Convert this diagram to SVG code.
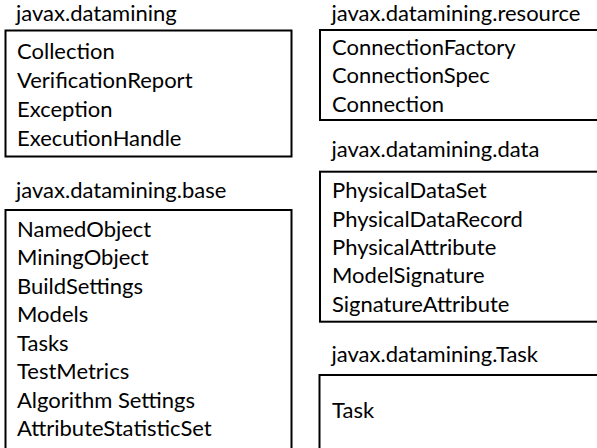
<svg xmlns="http://www.w3.org/2000/svg" width="597" height="448" viewBox="0 0 597 448">
  <style>
    .box { fill: #ffffff; stroke: #000000; stroke-width: 2; }
    .title, .item { font-family: "Lato", "Liberation Sans", sans-serif; font-size: 22px; fill: #000000; }
  </style>
  <rect x="0" y="0" width="597" height="448" fill="#ffffff"/>

  <!-- javax.datamining -->
  <g id="pkg-datamining">
    <text class="title" x="16" y="21">javax.datamining</text>
    <rect class="box" x="5.5" y="30.5" width="286" height="126"/>
    <text class="item" x="17" y="59.3">Collection</text>
    <text class="item" x="17" y="88.2">VerificationReport</text>
    <text class="item" x="17" y="116.9">Exception</text>
    <text class="item" x="17" y="145.7">ExecutionHandle</text>
  </g>

  <!-- javax.datamining.base -->
  <g id="pkg-base">
    <text class="title" x="16" y="198.3">javax.datamining.base</text>
    <rect class="box" x="5.5" y="210" width="286" height="250"/>
    <text class="item" x="17" y="236.7">NamedObject</text>
    <text class="item" x="17" y="265.2">MiningObject</text>
    <text class="item" x="17" y="293.8">BuildSettings</text>
    <text class="item" x="17" y="322.4">Models</text>
    <text class="item" x="17" y="350.9">Tasks</text>
    <text class="item" x="17" y="379.4">TestMetrics</text>
    <text class="item" x="17" y="407.6">Algorithm Settings</text>
    <text class="item" x="17" y="436">AttributeStatisticSet</text>
  </g>

  <!-- javax.datamining.resource -->
  <g id="pkg-resource">
    <text class="title" x="331.5" y="21">javax.datamining.resource</text>
    <rect class="box" x="320" y="30" width="300" height="90"/>
    <text class="item" x="332" y="55">ConnectionFactory</text>
    <text class="item" x="332" y="83.4">ConnectionSpec</text>
    <text class="item" x="332" y="111.7">Connection</text>
  </g>

  <!-- javax.datamining.data -->
  <g id="pkg-data">
    <text class="title" x="331.5" y="156.7">javax.datamining.data</text>
    <rect class="box" x="320" y="171.7" width="300" height="150"/>
    <text class="item" x="332" y="198.3">PhysicalDataSet</text>
    <text class="item" x="332" y="226.7">PhysicalDataRecord</text>
    <text class="item" x="332" y="255">PhysicalAttribute</text>
    <text class="item" x="332" y="283.3">ModelSignature</text>
    <text class="item" x="332" y="311.7">SignatureAttribute</text>
  </g>

  <!-- javax.datamining.Task -->
  <g id="pkg-task">
    <text class="title" x="331.5" y="361.7">javax.datamining.Task</text>
    <rect class="box" x="319.5" y="375" width="300" height="100"/>
    <text class="item" x="332" y="418.3">Task</text>
  </g>

  <g id="connectors"></g>
</svg>
